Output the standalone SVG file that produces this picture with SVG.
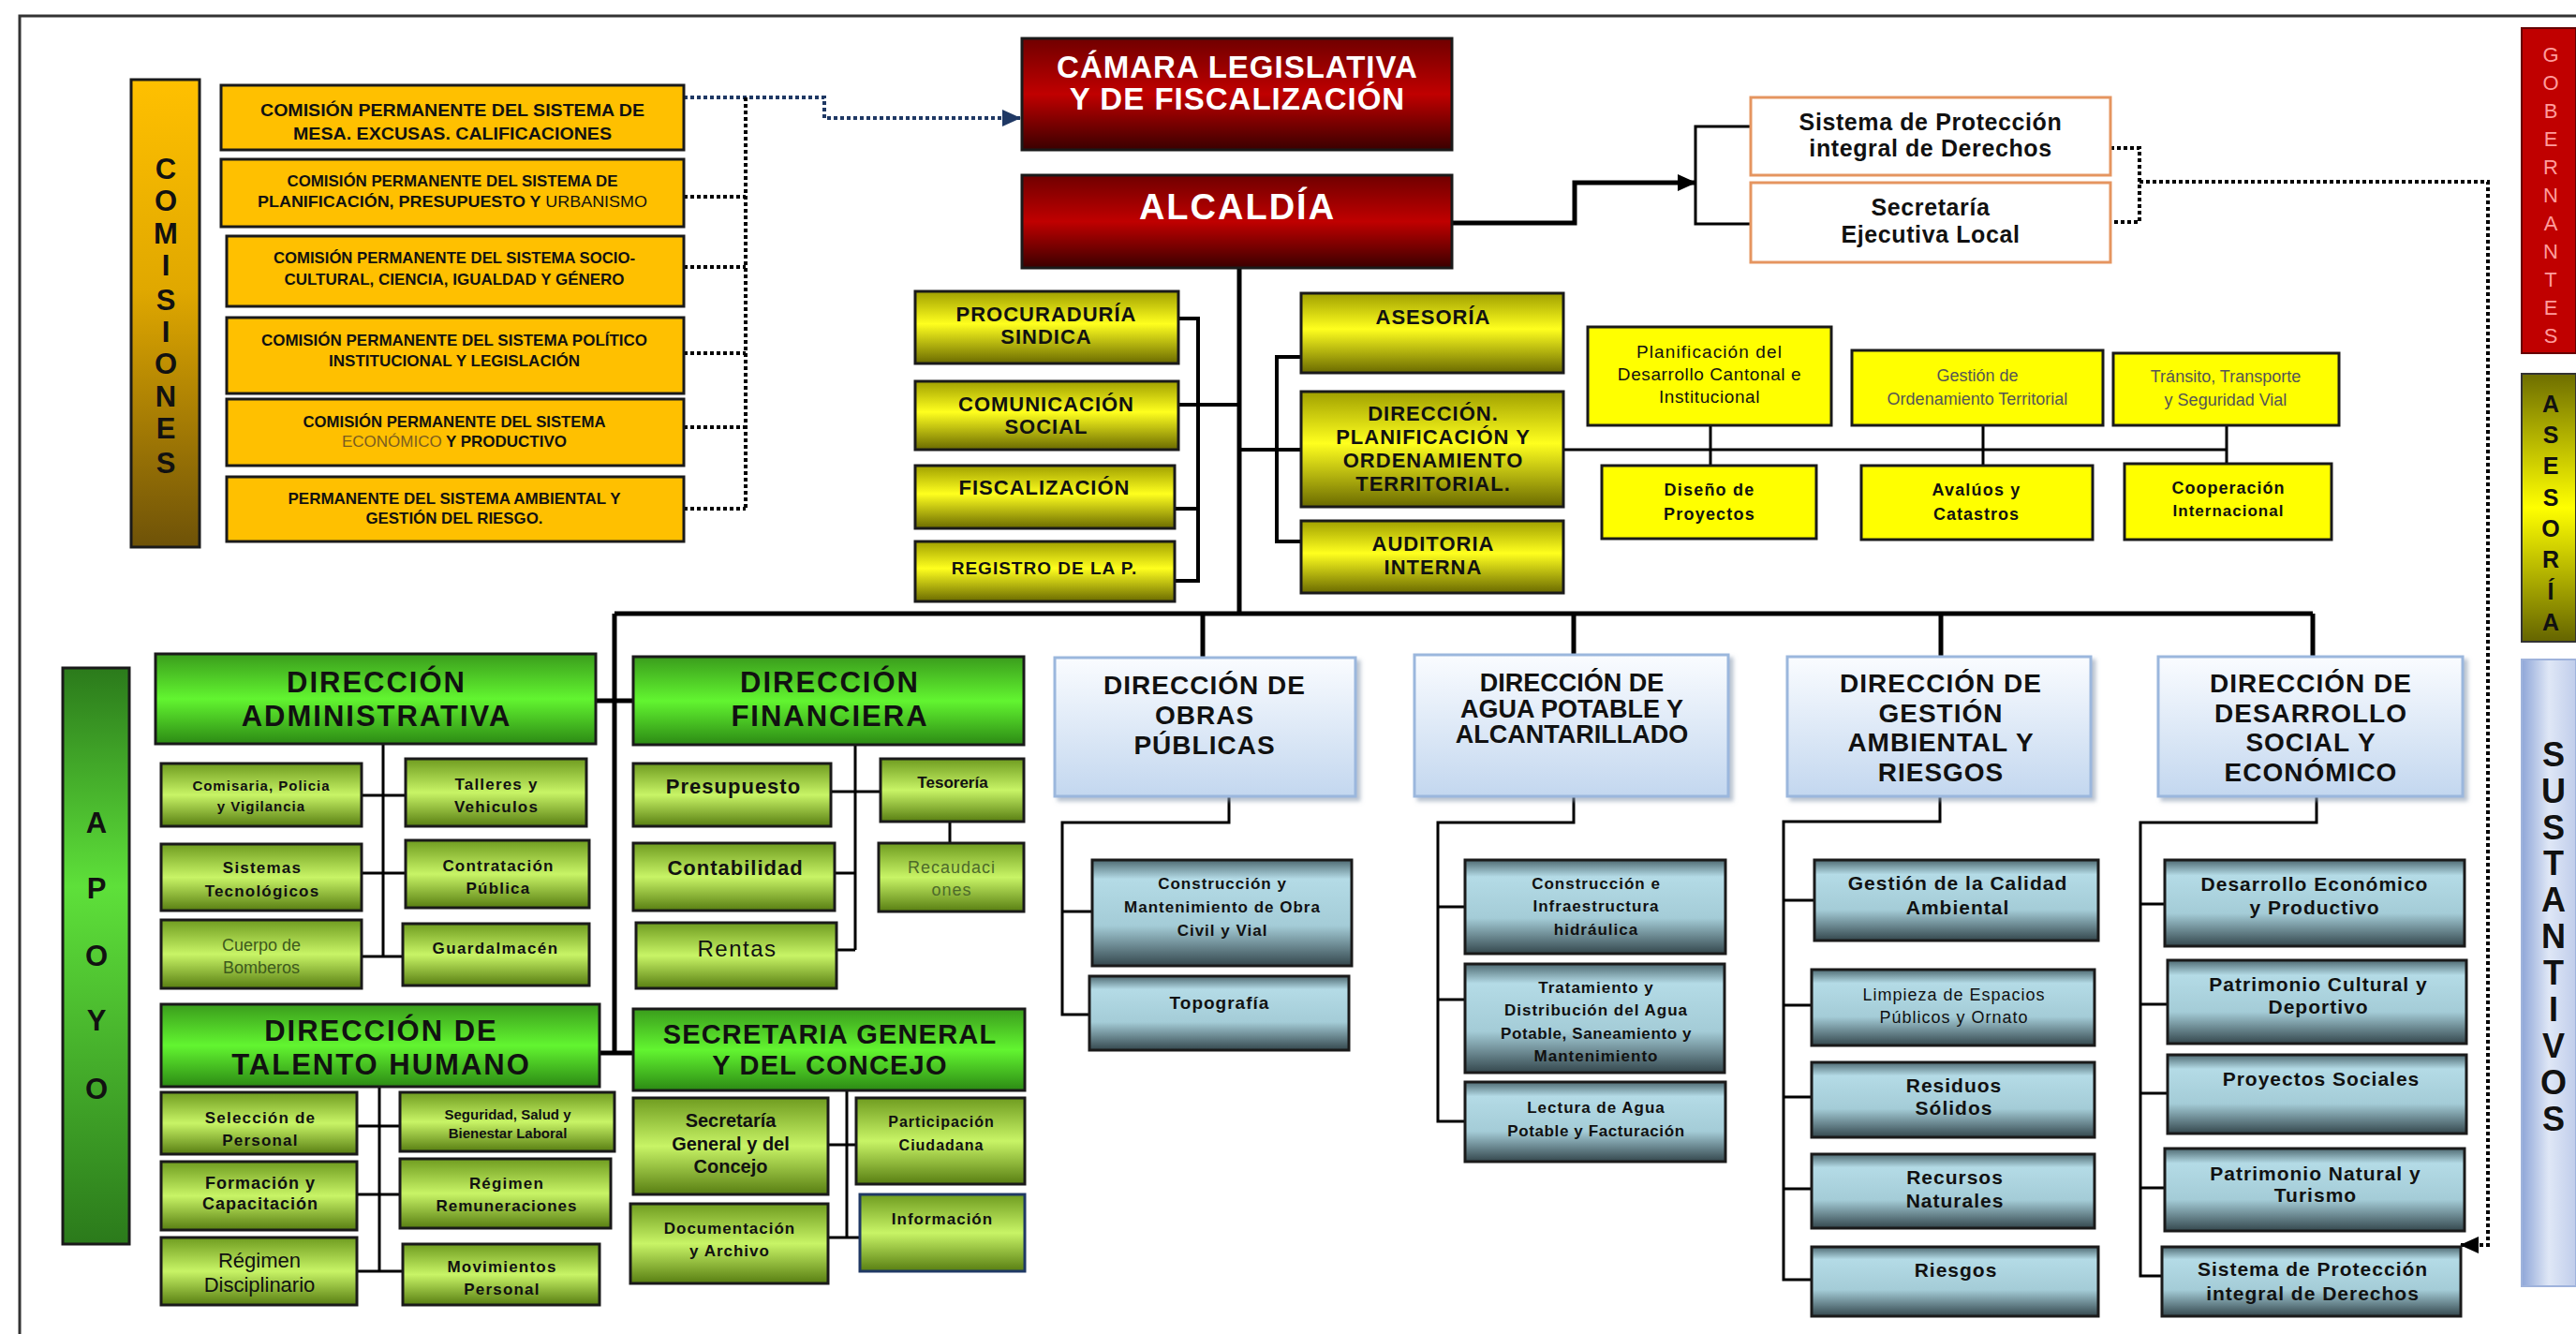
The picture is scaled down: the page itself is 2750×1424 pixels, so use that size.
<svg xmlns="http://www.w3.org/2000/svg" width="2750" height="1424" viewBox="0 0 2750 1424">
<defs>
<style>
.f{font-family:"Liberation Sans",Arial,sans-serif;text-anchor:middle;fill:#111}
.b{font-weight:bold}
.w{fill:#fff}
.s1{letter-spacing:1px}
.s2{letter-spacing:2px}
.sm{letter-spacing:1.2px}
.box{stroke:#1a1a1a;stroke-width:3}
.ln{fill:none;stroke:#000;stroke-width:3}
.lnb{fill:none;stroke:#000;stroke-width:5}
.dot{fill:none;stroke:#000;stroke-width:4;stroke-dasharray:4 3}
.dotn{fill:none;stroke:#1f3864;stroke-width:4;stroke-dasharray:4 3}
</style>
<linearGradient id="gOr" x1="0" y1="0" x2="0" y2="1"><stop offset="0" stop-color="#ffc000"/><stop offset="0.45" stop-color="#e0a800"/><stop offset="1" stop-color="#6e5208"/></linearGradient>
<linearGradient id="gRed" x1="0" y1="0" x2="0" y2="1"><stop offset="0" stop-color="#700000"/><stop offset="0.5" stop-color="#c00000"/><stop offset="1" stop-color="#3a0000"/></linearGradient>
<linearGradient id="gYel" x1="0" y1="0" x2="0" y2="1"><stop offset="0" stop-color="#a0a000"/><stop offset="0.45" stop-color="#ffff1e"/><stop offset="1" stop-color="#6a6a00"/></linearGradient>
<linearGradient id="gGrB" x1="0" y1="0" x2="0" y2="1"><stop offset="0" stop-color="#3a9c1c"/><stop offset="0.5" stop-color="#62f530"/><stop offset="1" stop-color="#2c8a14"/></linearGradient>
<linearGradient id="gGrS" x1="0" y1="0" x2="0" y2="1"><stop offset="0" stop-color="#6f9c20"/><stop offset="0.5" stop-color="#c8f466"/><stop offset="1" stop-color="#587e12"/></linearGradient>
<linearGradient id="gBl" x1="0" y1="0" x2="0" y2="1"><stop offset="0" stop-color="#fafcff"/><stop offset="1" stop-color="#c3d7ef"/></linearGradient>
<linearGradient id="gSt" x1="0" y1="0" x2="0" y2="1"><stop offset="0" stop-color="#4e6a72"/><stop offset="0.18" stop-color="#b4dbe6"/><stop offset="0.62" stop-color="#a4ccd7"/><stop offset="1" stop-color="#34474d"/></linearGradient>
<linearGradient id="gAp" x1="0" y1="0" x2="0" y2="1"><stop offset="0" stop-color="#2b7a1b"/><stop offset="0.38" stop-color="#5ee03a"/><stop offset="1" stop-color="#2b7a1b"/></linearGradient>
<linearGradient id="gAs" x1="0" y1="0" x2="0" y2="1"><stop offset="0" stop-color="#6e6e00"/><stop offset="0.5" stop-color="#ffff00"/><stop offset="1" stop-color="#646400"/></linearGradient>
<linearGradient id="gSu" x1="0" y1="0" x2="1" y2="0"><stop offset="0" stop-color="#8fa6d8"/><stop offset="0.5" stop-color="#dfe7f6"/><stop offset="1" stop-color="#c0cdeb"/></linearGradient>
<filter id="sh" x="-5%" y="-5%" width="115%" height="120%"><feDropShadow dx="4" dy="4" stdDeviation="2" flood-color="#8a9bb0" flood-opacity="0.6"/></filter>
<marker id="aN" markerWidth="20" markerHeight="18" refX="19" refY="9" orient="auto" markerUnits="userSpaceOnUse"><path d="M0,0 L20,9 L0,18 Z" fill="#1f3864"/></marker>
<marker id="aK" markerWidth="20" markerHeight="18" refX="19" refY="9" orient="auto" markerUnits="userSpaceOnUse"><path d="M0,0 L20,9 L0,18 Z" fill="#000"/></marker>
</defs>
<rect width="2750" height="1424" fill="#fff"/>
<path d="M21,1424 V17 H2750" fill="none" stroke="#333" stroke-width="3"/>

<g id="connectors">
<path class="dotn" d="M730,104 H880 V126 H1089" marker-end="url(#aN)"/>
<path class="dot" d="M796,104 V543 M730,210 H796 M730,285 H796 M730,377 H796 M730,456 H796 M730,543 H796"/>
<path class="lnb" d="M1550,238 H1681 V195 H1810" marker-end="url(#aK)"/>
<path class="ln" d="M1869,135 H1810 V239 H1869"/>
<path class="dot" d="M2253,158 H2284 V237 H2253 M2284,194 H2656 V1329 H2627" marker-end="url(#aK)"/>
<path class="lnb" d="M1323,286 V655 M656,655 H2469"/>
<path class="ln" d="M1258,340 H1279 V620 H1254 M1254,543 H1279" style="stroke-width:4"/>
<path class="ln" d="M1258,432 H1323" style="stroke-width:4"/>
<path class="ln" d="M1389,381 H1363 V578 H1389 M1323,480 H1389" style="stroke-width:4"/>
<path class="ln" d="M1668,480 H2377 M1826,454 V497 M2117,454 V497 M2377,454 V497"/>
<path class="lnb" d="M656,655 V1124 M635,748 H676 M640,1124 H676"/>
<path class="ln" d="M409,794 V1021 M386,849 H433 M386,932 H433 M386,1021 H430"/>
<path class="ln" d="M913,795 V1014 M887,845 H940 M891,932 H913 M893,1014 H913 M1014,877 V900"/>
<path class="ln" d="M405,1160 V1357 M381,1202 H427 M381,1275 H427 M381,1357 H430"/>
<path class="ln" d="M904,1164 V1321 M884,1222 H914 M884,1321 H918"/>
<path class="lnb" d="M1284,655 V702 M1680,655 V699 M2072,655 V701 M2469,655 V701"/>
<path class="ln" d="M1312,850 V878 H1134 V1083 H1163 M1134,973 H1166"/>
<path class="ln" d="M1680,850 V878 H1535 V1197 H1564 M1535,968 H1564 M1535,1067 H1564"/>
<path class="ln" d="M2071,850 V877 H1904 V1366 H1934 M1904,961 H1937 M1904,1073 H1934 M1904,1171 H1934 M1904,1269 H1934"/>
<path class="ln" d="M2473,850 V878 H2285 V1362 H2308 M2285,965 H2311 M2285,1072 H2314 M2285,1167 H2314 M2285,1268 H2311"/>
</g>

<g id="comisiones-bar"><rect x="140" y="85" width="73" height="499" fill="url(#gOr)" class="box"/>
<g class="f b" style="font-size:31px"><text x="177" y="191">C</text><text x="177" y="225">O</text><text x="177" y="260">M</text><text x="177" y="294">I</text><text x="177" y="331">S</text><text x="177" y="365">I</text><text x="177" y="399">O</text><text x="177" y="434">N</text><text x="177" y="468">E</text><text x="177" y="505">S</text></g></g>

<g id="com1"><rect x="236" y="91" width="494" height="69" fill="#ffc000" class="box"/>
<text class="f b" x="483" y="124" font-size="19" textLength="410" lengthAdjust="spacingAndGlyphs">COMISIÓN PERMANENTE DEL SISTEMA DE</text>
<text class="f b" x="483" y="149" font-size="19" textLength="340" lengthAdjust="spacingAndGlyphs">MESA. EXCUSAS. CALIFICACIONES</text></g>
<g id="com2"><rect x="236" y="170" width="494" height="72" fill="#ffc000" class="box"/>
<text class="f b" x="483" y="199" font-size="17" textLength="353" lengthAdjust="spacingAndGlyphs">COMISIÓN PERMANENTE DEL SISTEMA DE</text>
<text class="f b" x="483" y="221" font-size="17" textLength="416" lengthAdjust="spacingAndGlyphs">PLANIFICACIÓN, PRESUPUESTO Y <tspan font-weight="normal">URBANISMO</tspan></text></g>
<g id="com3"><rect x="242" y="252" width="488" height="75" fill="#ffc000" class="box"/>
<text class="f b" x="485" y="281" font-size="17" textLength="386" lengthAdjust="spacingAndGlyphs">COMISIÓN PERMANENTE DEL SISTEMA SOCIO-</text>
<text class="f b" x="485" y="304" font-size="17" textLength="363" lengthAdjust="spacingAndGlyphs">CULTURAL, CIENCIA, IGUALDAD Y GÉNERO</text></g>
<g id="com4"><rect x="242" y="339" width="488" height="81" fill="#ffc000" class="box"/>
<text class="f b" x="485" y="369" font-size="17" textLength="412" lengthAdjust="spacingAndGlyphs">COMISIÓN PERMANENTE DEL SISTEMA POLÍTICO</text>
<text class="f b" x="485" y="391" font-size="17" textLength="268" lengthAdjust="spacingAndGlyphs">INSTITUCIONAL Y LEGISLACIÓN</text></g>
<g id="com5"><rect x="242" y="426" width="488" height="71" fill="#ffc000" class="box"/>
<text class="f b" x="485" y="456" font-size="17" textLength="323" lengthAdjust="spacingAndGlyphs">COMISIÓN PERMANENTE DEL SISTEMA</text>
<text class="f b" x="485" y="477" font-size="17" textLength="240" lengthAdjust="spacingAndGlyphs"><tspan font-weight="normal" fill="#7a5c20">ECONÓMICO</tspan> Y PRODUCTIVO</text></g>
<g id="com6"><rect x="242" y="509" width="488" height="69" fill="#ffc000" class="box"/>
<text class="f b" x="485" y="538" font-size="17" textLength="355" lengthAdjust="spacingAndGlyphs">PERMANENTE DEL SISTEMA AMBIENTAL Y</text>
<text class="f b" x="485" y="559" font-size="17" textLength="189" lengthAdjust="spacingAndGlyphs">GESTIÓN DEL RIESGO.</text></g>

<g id="camara"><rect x="1091" y="41" width="459" height="119" fill="url(#gRed)" class="box"/>
<text class="f b w s1" x="1321" y="83" font-size="33">CÁMARA LEGISLATIVA</text><text class="f b w s1" x="1321" y="117" font-size="33">Y DE FISCALIZACIÓN</text></g>
<g id="alcaldia"><rect x="1091" y="187" width="459" height="99" fill="url(#gRed)" class="box"/>
<text class="f b w s2" x="1321" y="234" font-size="38">ALCALDÍA</text></g>

<g id="sistema-top"><rect x="1869" y="104" width="384" height="83" fill="#fff" stroke="#e59560" stroke-width="3"/>
<text class="f b" x="2061" y="139" font-size="25" style="letter-spacing:0.6px">Sistema  de Protección</text><text class="f b" x="2061" y="167" font-size="25" style="letter-spacing:0.6px">integral de Derechos</text></g>
<g id="secretaria-local"><rect x="1869" y="195" width="384" height="85" fill="#fff" stroke="#e59560" stroke-width="3"/>
<text class="f b" x="2061" y="230" font-size="25" style="letter-spacing:0.6px">Secretaría</text><text class="f b" x="2061" y="259" font-size="25" style="letter-spacing:0.6px">Ejecutiva Local</text></g>

<g id="procuraduria"><rect x="977" y="311" width="281" height="77" fill="url(#gYel)" class="box"/>
<text class="f b s1" x="1117" y="343" font-size="22">PROCURADURÍA</text><text class="f b s1" x="1117" y="367" font-size="22">SINDICA</text></g>
<g id="comunicacion"><rect x="977" y="407" width="281" height="73" fill="url(#gYel)" class="box"/>
<text class="f b s1" x="1117" y="439" font-size="22">COMUNICACIÓN</text><text class="f b s1" x="1117" y="463" font-size="22">SOCIAL</text></g>
<g id="fiscalizacion"><rect x="977" y="497" width="277" height="67" fill="url(#gYel)" class="box"/>
<text class="f b s1" x="1115" y="528" font-size="22">FISCALIZACIÓN</text></g>
<g id="registro"><rect x="977" y="578" width="277" height="64" fill="url(#gYel)" class="box"/>
<text class="f b s1" x="1115" y="613" font-size="19">REGISTRO DE LA P.</text></g>
<g id="asesoria"><rect x="1389" y="313" width="280" height="85" fill="url(#gYel)" class="box"/>
<text class="f b s1" x="1530" y="346" font-size="22">ASESORÍA</text></g>
<g id="dir-planificacion"><rect x="1389" y="418" width="280" height="123" fill="url(#gYel)" class="box"/>
<text class="f b s1" x="1530" y="449" font-size="22">DIRECCIÓN.</text><text class="f b s1" x="1530" y="474" font-size="22">PLANIFICACIÓN Y</text><text class="f b s1" x="1530" y="499" font-size="22">ORDENAMIENTO</text><text class="f b s1" x="1530" y="524" font-size="22">TERRITORIAL.</text></g>
<g id="auditoria"><rect x="1389" y="556" width="280" height="77" fill="url(#gYel)" class="box"/>
<text class="f b s1" x="1530" y="588" font-size="22">AUDITORIA</text><text class="f b s1" x="1530" y="613" font-size="22">INTERNA</text></g>

<g id="planif-desarrollo"><rect x="1695" y="349" width="260" height="105" fill="#ffff00" class="box"/>
<text class="f" x="1825" y="382" font-size="19" style="letter-spacing:1.1px">Planificación del</text><text class="f" x="1825" y="406" font-size="19" style="letter-spacing:0.6px">Desarrollo Cantonal e</text><text class="f" x="1825" y="430" font-size="19" style="letter-spacing:0.6px">Institucional</text></g>
<g id="gestion-ordenamiento"><rect x="1977" y="374" width="268" height="80" fill="#ffff00" class="box"/>
<text class="f" x="2111" y="407" font-size="18" style="fill:#555">Gestión de</text><text class="f" x="2111" y="432" font-size="18" style="fill:#555">Ordenamiento Territorial</text></g>
<g id="transito"><rect x="2256" y="377" width="241" height="77" fill="#ffff00" class="box"/>
<text class="f" x="2376" y="408" font-size="18" style="fill:#555">Tránsito, Transporte</text><text class="f" x="2376" y="433" font-size="18" style="fill:#555">y Seguridad Vial</text></g>
<g id="diseno"><rect x="1710" y="497" width="229" height="78" fill="#ffff00" class="box"/>
<text class="f b sm" x="1825" y="529" font-size="18">Diseño de</text><text class="f b sm" x="1825" y="555" font-size="18">Proyectos</text></g>
<g id="avaluos"><rect x="1987" y="497" width="247" height="79" fill="#ffff00" class="box"/>
<text class="f b sm" x="2110" y="529" font-size="18">Avalúos y</text><text class="f b s1" x="2110" y="555" font-size="18">Catastros</text></g>
<g id="cooperacion"><rect x="2268" y="495" width="221" height="81" fill="#ffff00" class="box"/>
<text class="f b s1" x="2379" y="527" font-size="18">Cooperación</text><text class="f b s1" x="2379" y="551" font-size="17">Internacional</text></g>

<g id="gobernantes"><rect x="2692" y="30" width="58" height="347" fill="#c00000" stroke="#600" stroke-width="2"/>
<g class="f" style="font-size:22px;fill:#ff9c9c"><text x="2723" y="66">G</text><text x="2723" y="96">O</text><text x="2723" y="126">B</text><text x="2723" y="156">E</text><text x="2723" y="186">R</text><text x="2723" y="216">N</text><text x="2723" y="246">A</text><text x="2723" y="276">N</text><text x="2723" y="306">T</text><text x="2723" y="336">E</text><text x="2723" y="366">S</text></g></g>
<g id="asesoria-bar"><rect x="2692" y="399" width="58" height="286" fill="url(#gAs)" stroke="#333" stroke-width="2"/>
<g class="f b" style="font-size:25px"><text x="2723" y="440">A</text><text x="2723" y="473">S</text><text x="2723" y="506">E</text><text x="2723" y="540">S</text><text x="2723" y="573">O</text><text x="2723" y="606">R</text><text x="2723" y="640">Í</text><text x="2723" y="673">A</text></g></g>
<g id="sustantivos"><rect x="2692" y="704" width="58" height="669" fill="url(#gSu)" stroke="#9fb3dc" stroke-width="2"/>
<g class="f b" style="font-size:36px"><text x="2726" y="818">S</text><text x="2726" y="857">U</text><text x="2726" y="896">S</text><text x="2726" y="934">T</text><text x="2726" y="973">A</text><text x="2726" y="1012">N</text><text x="2726" y="1051">T</text><text x="2726" y="1090">I</text><text x="2726" y="1129">V</text><text x="2726" y="1168">O</text><text x="2726" y="1207">S</text></g></g>

<g id="apoyo"><rect x="67" y="713" width="71" height="615" fill="url(#gAp)" class="box"/>
<g class="f b" style="font-size:31px"><text x="103" y="889">A</text><text x="103" y="959">P</text><text x="103" y="1031">O</text><text x="103" y="1100">Y</text><text x="103" y="1173">O</text></g></g>

<g id="dir-administrativa"><rect x="166" y="698" width="470" height="96" fill="url(#gGrB)" class="box"/>
<text class="f b s2" x="402" y="739" font-size="31">DIRECCIÓN</text><text class="f b s2" x="402" y="775" font-size="31">ADMINISTRATIVA</text></g>
<g id="comisaria"><rect x="172" y="815" width="214" height="67" fill="url(#gGrS)" class="box"/>
<text class="f b s1" x="279" y="844" font-size="15">Comisaria, Policia</text><text class="f b s1" x="279" y="866" font-size="15">y Vigilancia</text></g>
<g id="talleres"><rect x="433" y="810" width="193" height="72" fill="url(#gGrS)" class="box"/>
<text class="f b sm" x="530" y="843" font-size="17">Talleres y</text><text class="f b sm" x="530" y="867" font-size="17">Vehiculos</text></g>
<g id="sistemas"><rect x="172" y="901" width="214" height="71" fill="url(#gGrS)" class="box"/>
<text class="f b sm" x="280" y="932" font-size="17">Sistemas</text><text class="f b sm" x="280" y="957" font-size="17">Tecnológicos</text></g>
<g id="contratacion"><rect x="433" y="897" width="196" height="72" fill="url(#gGrS)" class="box"/>
<text class="f b sm" x="532" y="930" font-size="17">Contratación</text><text class="f b sm" x="532" y="954" font-size="17">Pública</text></g>
<g id="bomberos"><rect x="172" y="982" width="214" height="73" fill="url(#gGrS)" class="box"/>
<text class="f" x="279" y="1015" font-size="18" style="fill:#3d5a1c">Cuerpo de</text><text class="f" x="279" y="1039" font-size="18" style="fill:#3d5a1c">Bomberos</text></g>
<g id="guardalmacen"><rect x="430" y="986" width="199" height="66" fill="url(#gGrS)" class="box"/>
<text class="f b" x="529" y="1018" font-size="17" style="letter-spacing:1.4px">Guardalmacén</text></g>

<g id="dir-financiera"><rect x="676" y="701" width="417" height="94" fill="url(#gGrB)" class="box"/>
<text class="f b s2" x="886" y="739" font-size="31">DIRECCIÓN</text><text class="f b s2" x="886" y="775" font-size="31">FINANCIERA</text></g>
<g id="presupuesto"><rect x="676" y="815" width="211" height="67" fill="url(#gGrS)" class="box"/>
<text class="f b s1" x="783" y="847" font-size="22">Presupuesto</text></g>
<g id="tesoreria"><rect x="940" y="810" width="153" height="67" fill="url(#gGrS)" class="box"/>
<text class="f b" x="1017" y="841" font-size="17">Tesorería</text></g>
<g id="contabilidad"><rect x="676" y="900" width="215" height="72" fill="url(#gGrS)" class="box"/>
<text class="f b s1" x="785" y="934" font-size="22">Contabilidad</text></g>
<g id="recaudaciones"><rect x="938" y="900" width="155" height="73" fill="url(#gGrS)" class="box"/>
<text class="f s1" x="1016" y="932" font-size="18" style="fill:#4d6a2a">Recaudaci</text><text class="f s1" x="1016" y="956" font-size="18" style="fill:#4d6a2a">ones</text></g>
<g id="rentas"><rect x="679" y="985" width="214" height="70" fill="url(#gGrS)" class="box"/>
<text class="f" x="787" y="1021" font-size="24" style="letter-spacing:1.5px">Rentas</text></g>

<g id="dir-talento"><rect x="172" y="1072" width="468" height="88" fill="url(#gGrB)" class="box"/>
<text class="f b s2" x="407" y="1111" font-size="31">DIRECCIÓN DE</text><text class="f b s2" x="407" y="1147" font-size="31">TALENTO HUMANO</text></g>
<g id="seleccion"><rect x="172" y="1166" width="209" height="66" fill="url(#gGrS)" class="box"/>
<text class="f b sm" x="278" y="1199" font-size="17">Selección de</text><text class="f b sm" x="278" y="1223" font-size="17">Personal</text></g>
<g id="seguridad"><rect x="427" y="1166" width="229" height="63" fill="url(#gGrS)" class="box"/>
<text class="f b" x="542" y="1195" font-size="15">Seguridad,  Salud y</text><text class="f b" x="542" y="1215" font-size="15">Bienestar Laboral</text></g>
<g id="formacion"><rect x="172" y="1240" width="209" height="73" fill="url(#gGrS)" class="box"/>
<text class="f b s1" x="278" y="1269" font-size="18">Formación y</text><text class="f b s1" x="278" y="1291" font-size="18">Capacitación</text></g>
<g id="remuneraciones"><rect x="427" y="1237" width="225" height="74" fill="url(#gGrS)" class="box"/>
<text class="f b sm" x="541" y="1269" font-size="17">Régimen</text><text class="f b s1" x="541" y="1293" font-size="17">Remuneraciones</text></g>
<g id="disciplinario"><rect x="172" y="1321" width="209" height="72" fill="url(#gGrS)" class="box"/>
<text class="f" x="277" y="1353" font-size="22">Régimen</text><text class="f" x="277" y="1379" font-size="22">Disciplinario</text></g>
<g id="movimientos"><rect x="430" y="1328" width="210" height="65" fill="url(#gGrS)" class="box"/>
<text class="f b sm" x="536" y="1358" font-size="17">Movimientos</text><text class="f b sm" x="536" y="1382" font-size="17">Personal</text></g>

<g id="secretaria-general"><rect x="676" y="1077" width="418" height="87" fill="url(#gGrB)" class="box"/>
<text class="f b" x="886" y="1114" font-size="29" style="letter-spacing:1.2px">SECRETARIA GENERAL</text><text class="f b" x="886" y="1147" font-size="29" style="letter-spacing:1.2px">Y DEL CONCEJO</text></g>
<g id="sec-concejo"><rect x="676" y="1172" width="208" height="103" fill="url(#gGrS)" class="box"/>
<text class="f b" x="780" y="1203" font-size="20">Secretaría</text><text class="f b" x="780" y="1228" font-size="20">General y del</text><text class="f b" x="780" y="1252" font-size="20">Concejo</text></g>
<g id="participacion"><rect x="914" y="1172" width="180" height="92" fill="url(#gGrS)" class="box"/>
<text class="f b s1" x="1005" y="1203" font-size="16">Participación</text><text class="f b s1" x="1005" y="1228" font-size="16">Ciudadana</text></g>
<g id="documentacion"><rect x="673" y="1285" width="211" height="85" fill="url(#gGrS)" class="box"/>
<text class="f b s1" x="779" y="1317" font-size="17">Documentación</text><text class="f b s1" x="779" y="1341" font-size="17">y Archivo</text></g>
<g id="informacion"><rect x="918" y="1275" width="176" height="82" fill="url(#gGrS)" stroke="#1f3864" stroke-width="3"/>
<text class="f b s1" x="1006" y="1307" font-size="17">Información</text></g>

<g id="dir-obras"><rect x="1126" y="702" width="321" height="148" fill="url(#gBl)" stroke="#9bb7dd" stroke-width="3" filter="url(#sh)"/>
<text class="f b s1" x="1286" y="741" font-size="28">DIRECCIÓN DE</text><text class="f b s1" x="1286" y="773" font-size="28">OBRAS</text><text class="f b s1" x="1286" y="805" font-size="28">PÚBLICAS</text></g>
<g id="construccion-obra"><rect x="1166" y="918" width="277" height="113" fill="url(#gSt)" class="box"/>
<text class="f b s1" x="1305" y="949" font-size="17">Construcción y</text><text class="f b s1" x="1305" y="974" font-size="17">Mantenimiento de Obra</text><text class="f b s1" x="1305" y="999" font-size="17">Civil  y  Vial</text></g>
<g id="topografia"><rect x="1163" y="1042" width="277" height="79" fill="url(#gSt)" class="box"/>
<text class="f b s1" x="1302" y="1077" font-size="19">Topografía</text></g>

<g id="dir-agua"><rect x="1510" y="699" width="335" height="151" fill="url(#gBl)" stroke="#9bb7dd" stroke-width="3" filter="url(#sh)"/>
<text class="f b" x="1678" y="738" font-size="27">DIRECCIÓN DE</text><text class="f b" x="1678" y="766" font-size="27">AGUA POTABLE Y</text><text class="f b" x="1678" y="793" font-size="27">ALCANTARILLADO</text></g>
<g id="construccion-hidraulica"><rect x="1564" y="918" width="278" height="100" fill="url(#gSt)" class="box"/>
<text class="f b s1" x="1704" y="949" font-size="17">Construcción e</text><text class="f b s1" x="1704" y="973" font-size="17">Infraestructura</text><text class="f b s1" x="1704" y="998" font-size="17">hidráulica</text></g>
<g id="tratamiento"><rect x="1564" y="1029" width="277" height="116" fill="url(#gSt)" class="box"/>
<text class="f b s1" x="1704" y="1060" font-size="17">Tratamiento y</text><text class="f b s1" x="1704" y="1084" font-size="17">Distribución del Agua</text><text class="f b" x="1704" y="1109" font-size="17" style="letter-spacing:0.6px">Potable, Saneamiento y</text><text class="f b s1" x="1704" y="1133" font-size="17">Mantenimiento</text></g>
<g id="lectura"><rect x="1564" y="1155" width="278" height="85" fill="url(#gSt)" class="box"/>
<text class="f b s1" x="1704" y="1188" font-size="17">Lectura de Agua</text><text class="f b" x="1704" y="1213" font-size="17" style="letter-spacing:0.6px">Potable y Facturación</text></g>

<g id="dir-gestion-ambiental"><rect x="1908" y="701" width="324" height="149" fill="url(#gBl)" stroke="#9bb7dd" stroke-width="3" filter="url(#sh)"/>
<text class="f b s1" x="2072" y="739" font-size="28">DIRECCIÓN DE</text><text class="f b s1" x="2072" y="771" font-size="28">GESTIÓN</text><text class="f b s1" x="2072" y="802" font-size="28">AMBIENTAL Y</text><text class="f b s1" x="2072" y="834" font-size="28">RIESGOS</text></g>
<g id="calidad"><rect x="1937" y="918" width="303" height="86" fill="url(#gSt)" class="box"/>
<text class="f b s1" x="2090" y="950" font-size="21">Gestión de la Calidad</text><text class="f b s1" x="2090" y="976" font-size="21">Ambiental</text></g>
<g id="limpieza"><rect x="1934" y="1035" width="302" height="81" fill="url(#gSt)" class="box"/>
<text class="f s1" x="2086" y="1068" font-size="18">Limpieza de  Espacios</text><text class="f s1" x="2086" y="1092" font-size="18">Públicos y Ornato</text></g>
<g id="residuos"><rect x="1934" y="1134" width="302" height="80" fill="url(#gSt)" class="box"/>
<text class="f b s1" x="2086" y="1166" font-size="21">Residuos</text><text class="f b s1" x="2086" y="1190" font-size="21">Sólidos</text></g>
<g id="recursos"><rect x="1934" y="1232" width="302" height="79" fill="url(#gSt)" class="box"/>
<text class="f b s1" x="2087" y="1264" font-size="21">Recursos</text><text class="f b s1" x="2087" y="1289" font-size="21">Naturales</text></g>
<g id="riesgos"><rect x="1934" y="1331" width="306" height="74" fill="url(#gSt)" class="box"/>
<text class="f b s1" x="2088" y="1363" font-size="21">Riesgos</text></g>

<g id="dir-desarrollo"><rect x="2304" y="701" width="325" height="149" fill="url(#gBl)" stroke="#9bb7dd" stroke-width="3" filter="url(#sh)"/>
<text class="f b s1" x="2467" y="739" font-size="28">DIRECCIÓN DE</text><text class="f b s1" x="2467" y="771" font-size="28">DESARROLLO</text><text class="f b s1" x="2467" y="802" font-size="28">SOCIAL Y</text><text class="f b s1" x="2467" y="834" font-size="28">ECONÓMICO</text></g>
<g id="desarrollo-economico"><rect x="2311" y="918" width="320" height="92" fill="url(#gSt)" class="box"/>
<text class="f b s1" x="2471" y="951" font-size="21">Desarrollo Económico</text><text class="f b s1" x="2471" y="976" font-size="21">y  Productivo</text></g>
<g id="patrimonio-cultural"><rect x="2314" y="1025" width="319" height="89" fill="url(#gSt)" class="box"/>
<text class="f b s1" x="2475" y="1058" font-size="21">Patrimonio Cultural y</text><text class="f b s1" x="2475" y="1082" font-size="21">Deportivo</text></g>
<g id="proyectos-sociales"><rect x="2314" y="1126" width="319" height="84" fill="url(#gSt)" class="box"/>
<text class="f b s1" x="2478" y="1159" font-size="21">Proyectos Sociales</text></g>
<g id="patrimonio-natural"><rect x="2311" y="1226" width="320" height="88" fill="url(#gSt)" class="box"/>
<text class="f b s1" x="2472" y="1260" font-size="21">Patrimonio Natural y</text><text class="f b s1" x="2472" y="1283" font-size="21">Turismo</text></g>
<g id="sistema-bottom"><rect x="2308" y="1331" width="319" height="74" fill="url(#gSt)" class="box"/>
<text class="f b s1" x="2469" y="1362" font-size="21">Sistema de Protección</text><text class="f b s1" x="2469" y="1388" font-size="21">integral de Derechos</text></g>
</svg>
